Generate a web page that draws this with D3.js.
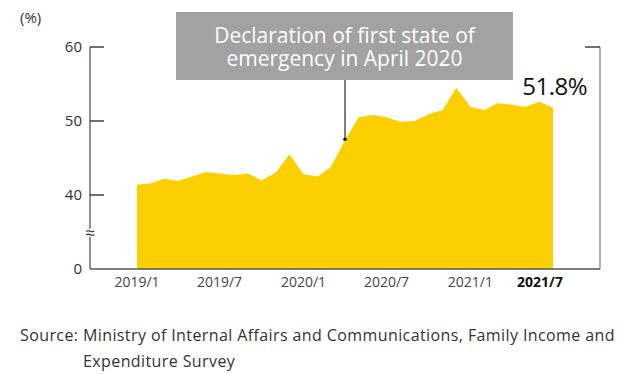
<!DOCTYPE html>
<html>
<head>
<meta charset="utf-8">
<script src="https://cdn.jsdelivr.net/npm/d3@7"></script>
<style>
  body { margin: 0; background: #fff; }
  text { font-family: "Open Sans", "Noto Sans", sans-serif; }
</style>
</head>
<body>
<div id="chart"></div>
<script>
"use strict"

// monthly share (%), 2019/1 .. 2021/7
const months = d3.range(31).map((i) => new Date(2019, i, 1));
const values = [41.4, 41.6, 42.2, 41.9, 42.5, 43.1, 42.9, 42.7, 42.9, 42.0, 43.0, 45.5,
                42.8, 42.5, 43.8, 47.4, 50.5, 50.8, 50.5, 49.9, 50.0, 50.9, 51.5, 54.5,
                51.9, 51.5, 52.4, 52.2, 51.9, 52.6, 51.8];
const xTicks = ["2019/1", "2019/7", "2020/1", "2020/7", "2021/1", "2021/7"];
const yTicks = [30, 40, 50, 60];          // 30 sits at the axis base and is shown as 0
const yTickLabels = ["0", "40", "50", "60"];
const annotation = ["Declaration of first state of", "emergency in April 2020"];
const annotationMonth = new Date(2020, 3, 1);
const lastLabel = "51.8%";
const source = ["Source: Ministry of Internal Affairs and Communications, Family Income and",
                "Expenditure Survey"];

const W = 626, H = 374;
const plot = { left: 90, right: 600, top: 47, bottom: 269 };

const svg = d3.select("#chart").append("svg")
    .attr("width", W).attr("height", H);

const x = d3.scaleTime()
    .domain([months[0], months[months.length - 1]])
    .range([137, 553]);
const y = d3.scaleLinear()
    .domain([30, 60])
    .range([plot.bottom, plot.top]);

const parseMonth = d3.timeParse("%Y/%m");

/* AREA
 */
const area = d3.area()
    .x((d, i) => x(months[i]))
    .y0(y(30))
    .y1((d) => y(d));

svg.append("path")
    .attr("d", area(values))
    .attr("fill", "#fccf00");

/* AXES
 */
const axisColor = "#555";

svg.append("line")
    .attr("x1", plot.left).attr("x2", plot.left)
    .attr("y1", plot.top).attr("y2", plot.bottom)
    .attr("stroke", axisColor).attr("stroke-width", 1.3);
svg.append("line")
    .attr("x1", plot.right).attr("x2", plot.right)
    .attr("y1", plot.top).attr("y2", plot.bottom)
    .attr("stroke", "#888").attr("stroke-width", 1.3);
svg.append("line")
    .attr("x1", plot.left).attr("x2", plot.right)
    .attr("y1", plot.bottom).attr("y2", plot.bottom)
    .attr("stroke", axisColor).attr("stroke-width", 1.3);
svg.append("line")
    .attr("x1", plot.right - 15).attr("x2", plot.right)
    .attr("y1", plot.top).attr("y2", plot.top)
    .attr("stroke", "#222").attr("stroke-width", 1.3);

const yAxis = svg.selectAll(".ytick")
    .data(yTicks)
    .enter().append("g")
    .attr("class", "ytick")
    .attr("transform", (d) => `translate(${plot.left},${y(d)})`);

yAxis.filter((d) => d > 30).append("line")
    .attr("x2", 14)
    .attr("stroke", "#222").attr("stroke-width", 1.3);

yAxis.append("text")
    .attr("x", -8).attr("dy", "0.35em")
    .attr("text-anchor", "end")
    .attr("font-size", 15)
    .attr("fill", "#333")
    .text((d, i) => yTickLabels[i]);

// axis break mark
svg.append("rect")
    .attr("x", plot.left - 6).attr("y", y(34.9) - 4)
    .attr("width", 12).attr("height", 8)
    .attr("fill", "#fff");
svg.append("text")
    .attr("x", plot.left).attr("y", y(34.9))
    .attr("dy", "0.35em")
    .attr("text-anchor", "middle")
    .attr("font-size", 17)
    .attr("fill", "#333")
    .text("\u2248");

svg.append("text")
    .attr("x", 20).attr("y", 23)
    .attr("font-size", 15)
    .attr("fill", "#333")
    .text("(%)");

svg.selectAll(".xlabel")
    .data(xTicks)
    .enter().append("text")
    .attr("class", "xlabel")
    .attr("x", (d, i) => x(parseMonth(d)) - (i == xTicks.length - 1 ? 13 : 0))
    .attr("y", 287)
    .attr("text-anchor", "middle")
    .attr("font-size", 14)
    .attr("font-weight", (d, i) => i == xTicks.length - 1 ? "bold" : "normal")
    .attr("fill", (d, i) => i == xTicks.length - 1 ? "#111" : "#444")
    .text((d) => d);

/* ANNOTATION
 */
const ax = x(annotationMonth);
svg.append("rect")
    .attr("x", 176).attr("y", 12)
    .attr("width", 337).attr("height", 68)
    .attr("fill", "#a2a2a2");
svg.selectAll(".note")
    .data(annotation)
    .enter().append("text")
    .attr("class", "note")
    .attr("x", 344.5)
    .attr("y", (d, i) => 43 + i * 23)
    .attr("text-anchor", "middle")
    .attr("font-size", 21)
    .attr("fill", "#fff")
    .text((d) => d);

svg.append("line")
    .attr("x1", ax).attr("x2", ax)
    .attr("y1", 80).attr("y2", y(values[15]) - 1)
    .attr("stroke", "#555").attr("stroke-width", 1.5);
svg.append("circle")
    .attr("cx", ax).attr("cy", y(values[15]) - 1)
    .attr("r", 1.8)
    .attr("fill", "#222");

svg.append("text")
    .attr("x", x(months[months.length - 1]) + 34)
    .attr("y", 95)
    .attr("text-anchor", "end")
    .attr("font-size", 24)
    .attr("letter-spacing", -0.5)
    .attr("fill", "#111")
    .text(lastLabel);

/* SOURCE
 */
svg.selectAll(".source")
    .data(source)
    .enter().append("text")
    .attr("class", "source")
    .attr("x", (d, i) => i == 0 ? 20 : 83)
    .attr("y", (d, i) => 341 + i * 26)
    .attr("font-size", 16)
    .attr("letter-spacing", 0.4)
    .attr("fill", "#333")
    .text((d) => d);
</script>
</body>
</html>
